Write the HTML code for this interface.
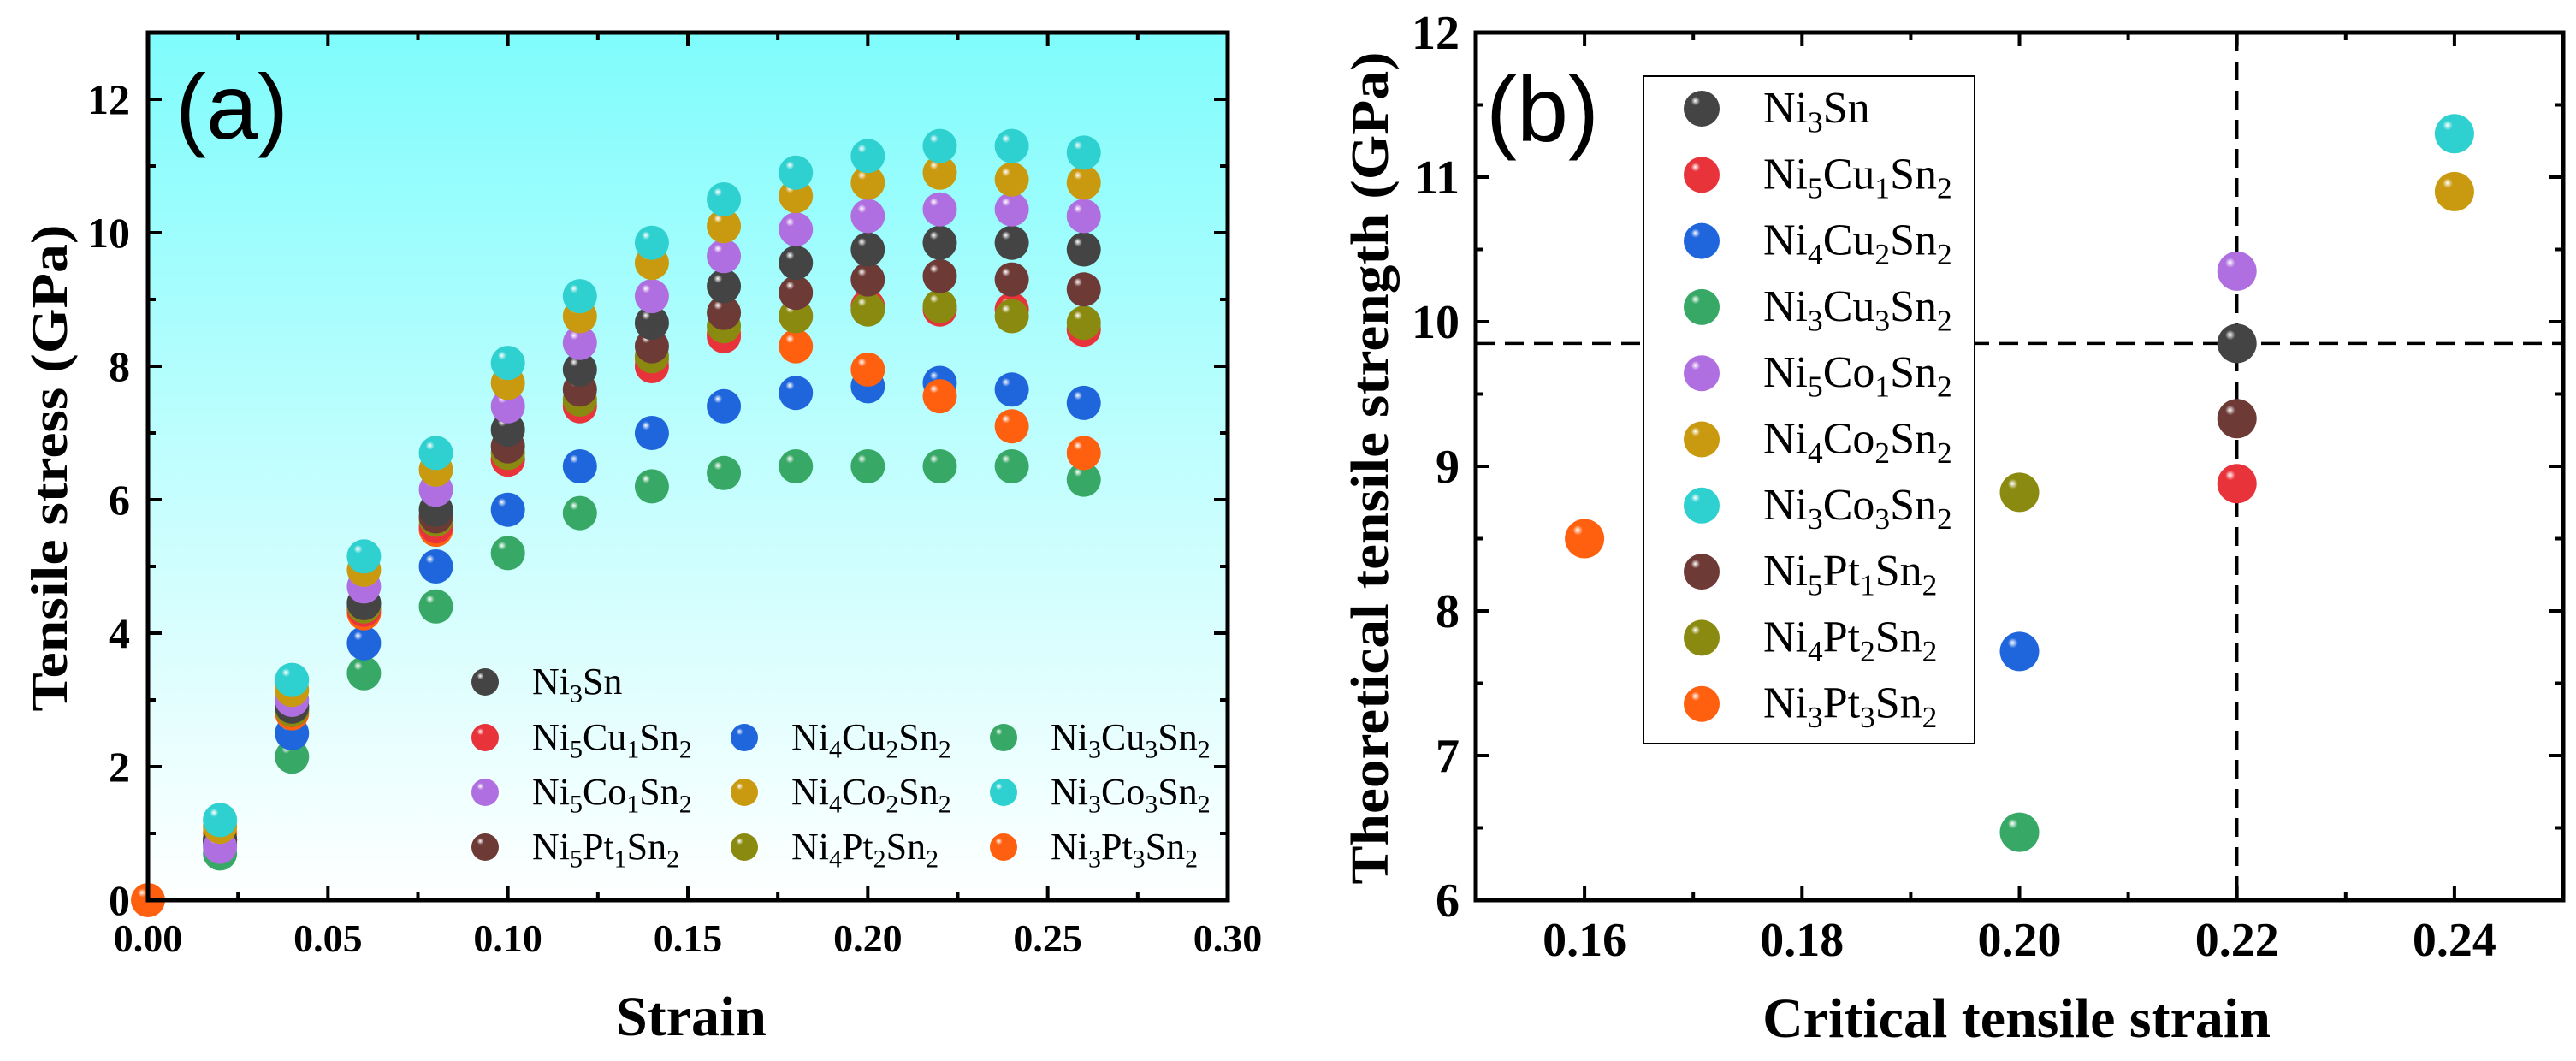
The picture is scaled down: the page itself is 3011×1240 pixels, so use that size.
<!DOCTYPE html>
<html><head><meta charset="utf-8"><style>
html,body{margin:0;padding:0;background:#fff;}
svg{display:block;font-family:"Liberation Serif",serif;}
</style></head><body>
<svg id="c" width="3011" height="1240" viewBox="0 0 3011 1240" xmlns="http://www.w3.org/2000/svg">
<defs>
<linearGradient id="bgA" x1="0" y1="0" x2="0" y2="1">
<stop offset="0" stop-color="#7ffcfc"/><stop offset="0.55" stop-color="#c8fefe"/><stop offset="1" stop-color="#ffffff"/>
</linearGradient>
</defs>
</svg>
<script>
const names=["Ni3Sn","Ni5Cu1Sn2","Ni4Cu2Sn2","Ni3Cu3Sn2","Ni5Co1Sn2","Ni4Co2Sn2","Ni3Co3Sn2","Ni5Pt1Sn2","Ni4Pt2Sn2","Ni3Pt3Sn2"];
const colors=["#444444","#e8333a","#1f66dd","#37a865","#b06fe0","#c99a10","#2fd0d0","#6e3a36","#8a8a10","#ff6010"];
const strains=[0.02,0.04,0.06,0.08,0.10,0.12,0.14,0.16,0.18,0.20,0.22,0.24,0.26];
const sNi3Sn=[0.9,2.9,4.45,5.85,7.05,7.95,8.65,9.2,9.55,9.75,9.85,9.85,9.75];
const sNi5Cu1=[0.9,2.85,4.35,5.6,6.6,7.4,8.0,8.45,8.75,8.9,8.85,8.85,8.55];
const sNi4Cu2=[0.85,2.5,3.85,5.0,5.85,6.5,7.0,7.4,7.6,7.7,7.75,7.65,7.45];
const sNi3Cu3=[0.7,2.15,3.4,4.4,5.2,5.8,6.2,6.4,6.5,6.5,6.5,6.5,6.3];
const sNi5Co1=[0.8,3.0,4.7,6.15,7.4,8.35,9.05,9.65,10.05,10.25,10.35,10.35,10.25];
const sNi4Co2=[1.1,3.15,4.95,6.45,7.75,8.75,9.55,10.1,10.55,10.75,10.9,10.8,10.75];
const sNi3Co3=[1.2,3.3,5.15,6.7,8.05,9.05,9.85,10.5,10.9,11.15,11.3,11.3,11.2];
const sNi5Pt1=[0.9,2.9,4.45,5.75,6.8,7.65,8.3,8.8,9.1,9.3,9.35,9.3,9.15];
const sNi4Pt2=[0.9,2.85,4.4,5.7,6.7,7.5,8.15,8.6,8.75,8.85,8.9,8.75,8.65];
const sNi3Pt3=[1.0,2.8,4.3,5.55,6.6,7.45,8.1,8.5,8.3,7.95,7.55,7.1,6.7];
const seriesA=[sNi3Sn,sNi5Cu1,sNi4Cu2,sNi3Cu3,sNi5Co1,sNi4Co2,sNi3Co3,sNi5Pt1,sNi4Pt2,sNi3Pt3];
const drawOrder=[3,2,9,1,8,7,0,4,5,6];
const critStrain=[0.22,0.22,0.20,0.20,0.22,0.24,0.24,0.22,0.20,0.16];
const critStress=[9.85,8.88,7.72,6.47,10.35,10.9,11.3,9.33,8.82,8.5];
const refStress=9.85, refStrain=0.22;
const xTicksA=["0.00","0.05","0.10","0.15","0.20","0.25","0.30"];
const yTicksA=["0","2","4","6","8","10","12"];
const xTicksB=["0.16","0.18","0.20","0.22","0.24"];
const yTicksB=["6","7","8","9","10","11","12"];

const NS="http://www.w3.org/2000/svg";
const svg=document.getElementById('c');
const defs=svg.querySelector('defs');
function el(tag,attrs,parent){const e=document.createElementNS(NS,tag);for(const k in attrs)e.setAttribute(k,attrs[k]);(parent||svg).appendChild(e);return e;}
colors.forEach((c,i)=>{
  const g=el('radialGradient',{id:'g'+i,cx:'0.38',cy:'0.32',r:'0.7',fx:'0.32',fy:'0.28'},defs);
  el('stop',{offset:'0','stop-color':'#ffffff'},g);
  el('stop',{offset:'0.18','stop-color':c},g);
  el('stop',{offset:'1','stop-color':c},g);
});
function ball(x,y,i,r,parent,name){
  const b=el('circle',{cx:x,cy:y,r:r,fill:'url(#g'+i+')'},parent);
  
  
  return b;
}
function formula(t,x,y,size,parent,name){
  const tx=el('text',{x:x,y:y,'font-size':size,fill:'#000'},parent);
  
  
  const parts=t.match(/[A-Za-z]+|\d+/g);
  parts.forEach(p=>{
    const ts=el('tspan',{},tx);
    if(/\d/.test(p)){ts.setAttribute('font-size',size*0.68);ts.setAttribute('dy',size*0.22);}
    else{ if(tx.lastChild.previousSibling && /\d/.test(tx.lastChild.previousSibling.textContent)) ts.setAttribute('dy',-size*0.22);}
    ts.textContent=p;
  });
  return tx;
}

// ---------- Panel A ----------
const A={l:173,r:1435,t:38,b:1052,x0:0,x1:0.30,y0:0,y1:13};
const ax=v=>A.l+(v-A.x0)/(A.x1-A.x0)*(A.r-A.l);
const ay=v=>A.b-(v-A.y0)/(A.y1-A.y0)*(A.b-A.t);
const gA=el('g',{});


const bgA=el('rect',{x:A.l,y:A.t,width:A.r-A.l,height:A.b-A.t,fill:'url(#bgA)'},gA);


const ptsA=el('g',{},gA);


ball(ax(0),ay(0),9,20,ptsA,'point-origin');
drawOrder.forEach(si=>{
  strains.forEach((s,j)=>{ball(ax(s),ay(seriesA[si][j]),si,20,ptsA,'point-'+names[si].toLowerCase());});
});
const tkA=el('g',{stroke:'#000','stroke-width':4},gA);


for(let k=0;k<=12;k++){const v=k*0.025;const L=k%2==0?16:9;el('line',{x1:ax(v),y1:A.b,x2:ax(v),y2:A.b-L},tkA);el('line',{x1:ax(v),y1:A.t,x2:ax(v),y2:A.t+L},tkA);}
for(let k=0;k<=13;k++){const L=k%2==0?16:9;el('line',{x1:A.l,y1:ay(k),x2:A.l+L,y2:ay(k)},tkA);el('line',{x1:A.r,y1:ay(k),x2:A.r-L,y2:ay(k)},tkA);}
const frA=el('rect',{x:A.l,y:A.t,width:A.r-A.l,height:A.b-A.t,fill:'none',stroke:'#000','stroke-width':5},gA);


xTicksA.forEach(t=>{const e=el('text',{x:ax(parseFloat(t)),y:1112,'font-size':46,'font-weight':'bold','text-anchor':'middle'},gA);e.textContent=t;

});
yTicksA.forEach(t=>{const e=el('text',{x:152,y:ay(parseFloat(t))+17,'font-size':50,'font-weight':'bold','text-anchor':'end'},gA);e.textContent=t;

});
let t1=el('text',{x:808,y:1210,'font-size':66,'font-weight':'bold','text-anchor':'middle'},gA);t1.textContent='Strain';


let t2=el('text',{x:0,y:0,'font-size':60,'font-weight':'bold','text-anchor':'middle',textLength:569,lengthAdjust:'spacingAndGlyphs',transform:'translate(78,547) rotate(-90)'},gA);t2.textContent='Tensile stress (GPa)';


let pa=el('text',{x:205,y:162,'font-size':108,'font-family':'"Liberation Sans",sans-serif'},gA);pa.textContent='(a)';


const lgA=el('g',{},gA);


const legRows=[[0],[1,2,3],[4,5,6],[7,8,9]];
const colX=[567,870,1173], rowY=[797,862,926,990];
legRows.forEach((row,ri)=>row.forEach((si,ci)=>{
  ball(colX[ci],rowY[ri],si,16,lgA,'legend-marker-'+names[si].toLowerCase());
  formula(names[si],colX[ci]+55,rowY[ri]+14,44,lgA,'legend-label-'+names[si].toLowerCase());
}));

// ---------- Panel B ----------
const B={l:1725,r:2996,t:38,b:1052,x0:0.15,x1:0.25,y0:6,y1:12};
const bx=v=>B.l+(v-B.x0)/(B.x1-B.x0)*(B.r-B.l);
const by=v=>B.b-(v-B.y0)/(B.y1-B.y0)*(B.b-B.t);
const gB=el('g',{});


const hl=el('line',{x1:B.l,y1:by(refStress),x2:B.r,y2:by(refStress),stroke:'#000','stroke-width':3.5,'stroke-dasharray':'22 12'},gB);


const vl=el('line',{x1:bx(refStrain),y1:B.t,x2:bx(refStrain),y2:B.b,stroke:'#000','stroke-width':3.5,'stroke-dasharray':'22 12'},gB);


const ptsB=el('g',{},gB);


critStrain.forEach((s,i)=>ball(bx(s),by(critStress[i]),i,23,ptsB,'point-'+names[i].toLowerCase()));
const tkB=el('g',{stroke:'#000','stroke-width':4},gB);


for(let k=0;k<=10;k++){const v=0.15+k*0.01;const L=k%2==1?16:9;el('line',{x1:bx(v),y1:B.b,x2:bx(v),y2:B.b-L},tkB);el('line',{x1:bx(v),y1:B.t,x2:bx(v),y2:B.t+L},tkB);}
for(let k=0;k<=12;k++){const v=6+k*0.5;const L=k%2==0?16:9;el('line',{x1:B.l,y1:by(v),x2:B.l+L,y2:by(v)},tkB);el('line',{x1:B.r,y1:by(v),x2:B.r-L,y2:by(v)},tkB);}
const frB=el('rect',{x:B.l,y:B.t,width:B.r-B.l,height:B.b-B.t,fill:'none',stroke:'#000','stroke-width':5},gB);


xTicksB.forEach(t=>{const e=el('text',{x:bx(parseFloat(t)),y:1117,'font-size':56,'font-weight':'bold','text-anchor':'middle'},gB);e.textContent=t;

});
yTicksB.forEach(t=>{const e=el('text',{x:1706,y:by(parseFloat(t))+19,'font-size':56,'font-weight':'bold','text-anchor':'end'},gB);e.textContent=t;

});
let t3=el('text',{x:2357,y:1212,'font-size':66,'font-weight':'bold','text-anchor':'middle'},gB);t3.textContent='Critical tensile strain';


let t4=el('text',{x:0,y:0,'font-size':62,'font-weight':'bold','text-anchor':'middle',textLength:973,lengthAdjust:'spacingAndGlyphs',transform:'translate(1622,547) rotate(-90)'},gB);t4.textContent='Theoretical tensile strength (GPa)';


let pb=el('text',{x:1737,y:165,'font-size':108,'font-family':'"Liberation Sans",sans-serif'},gB);pb.textContent='(b)';


const lgB=el('g',{},gB);


const lbox=el('rect',{x:1921,y:89,width:387,height:780,fill:'#fff',stroke:'#000','stroke-width':2},lgB);


names.forEach((n,i)=>{const y=127+i*77.3;ball(1989,y,i,21,lgB,'legend-marker-'+n.toLowerCase());formula(n,2061,y+16,52,lgB,'legend-label-'+n.toLowerCase());});
</script>
</body></html>
